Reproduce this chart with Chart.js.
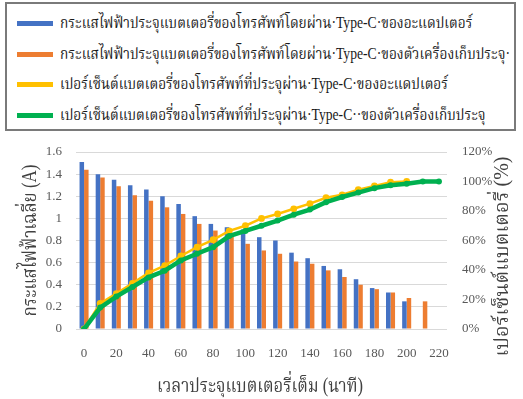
<!DOCTYPE html>
<html>
<head>
<meta charset="utf-8">
<script src="https://cdn.jsdelivr.net/npm/chart.js@4/dist/chart.umd.min.js"></script>
<style>
  html, body { margin: 0; padding: 0; background: #ffffff; }
  #wrap { position: relative; width: 523px; height: 399px; overflow: hidden; }
  #chart { position: absolute; left: 0; top: 0; }
  #legend {
    position: absolute; left: 5px; top: 2px; width: 507px; height: 125px;
    border: 2px solid #7a7a7a; background: #ffffff;
  }
  .row { position: absolute; left: 0; width: 500px; height: 30px; }
  .swatch { position: absolute; left: 10px; top: 13px; width: 36px; height: 5px; }
  .label {
    position: absolute; left: 53px; top: 0; line-height: 30px;
    font-family: "Liberation Serif", "Noto Serif Thai", "Noto Sans Thai", serif;
    font-size: 16px; color: #1a1a1a; white-space: nowrap; transform-origin: 0 50%;
  }
</style>
</head>
<body>
<div id="wrap">
  <canvas id="chart" width="523" height="399"></canvas>
  <div id="legend"></div>
</div>
<script>
// Charging time (minutes), one category every 10 minutes
const timeLabels = ['0','10','20','30','40','50','60','70','80','90','100','110','120','130','140','150','160','170','180','190','200','210','220'];

// Average charging current (A)
const adapterCurrent = [1.51,1.40,1.35,1.30,1.26,1.20,1.13,1.02,0.95,0.92,0.90,0.83,0.80,0.69,0.64,0.57,0.54,0.45,0.37,0.33,0.25,null,null];
const powerBankCurrent = [1.44,1.37,1.29,1.21,1.16,1.10,1.04,0.95,0.89,0.86,0.77,0.71,0.68,0.61,0.59,0.53,0.47,0.40,0.36,0.33,0.28,0.25,null];

// Battery level (%)
const adapterPercent = [0,17.4,24,31,38,43,49.5,55.5,60.5,66.5,70,75,78,81.5,85,89,91,94.5,97,99.5,100,null,null];
const powerBankPercent = [0,14.5,22,28.5,35,39.5,46.5,51,55.5,63,66.5,70,73.5,77.5,81,86,89.5,92.5,95.5,97.5,98.5,100,100];

// Axis tick labels
const currentTicks = ['0','0.2','0.4','0.6','0.8','1','1.2','1.4','1.6'];
const percentTicks = ['0%','20%','40%','60%','80%','100%','120%'];

// Series names
const seriesNames = [
  'กระแสไฟฟ้าประจุแบตเตอรี่ของโทรศัพท์โดยผ่าน·Type-C·ของอะแดปเตอร์',
  'กระแสไฟฟ้าประจุแบตเตอรี่ของโทรศัพท์โดยผ่าน·Type-C·ของตัวเครื่องเก็บประจุ·',
  'เปอร์เซ็นต์แบตเตอรี่ของโทรศัพท์ที่ประจุผ่าน·Type-C·ของอะแดปเตอร์',
  'เปอร์เซ็นต์แบตเตอรี่ของโทรศัพท์ที่ประจุผ่าน·Type-C··ของตัวเครื่องเก็บประจุ'
];
const seriesColors = ['#4472C4', '#ED7D31', '#FFC000', '#00B050'];

const xTitle = 'เวลาประจุแบตเตอรี่เต็ม (นาที)';
const yLeftTitle = 'กระแสไฟฟ้าเฉลี่ย (A)';
const yRightTitle = 'เปอร์เซ็นต์แบตเตอรี่ (%)';

const FONT = '"Liberation Serif", "Noto Serif Thai", "Noto Sans Thai", serif';
const TICK_COLOR = '#595959';

// Text measuring helper: Thai runs are set condensed to a target width
const measureCtx = document.createElement('canvas').getContext('2d');
function textWidth(text, size) {
  measureCtx.font = size + 'px ' + FONT;
  return measureCtx.measureText(text).width;
}

// Boxed legend above the plot
const legendEl = document.getElementById('legend');
const legendScale = 450 / textWidth(seriesNames[1], 16);
seriesNames.forEach((name, i) => {
  const row = document.createElement('div');
  row.className = 'row';
  row.style.top = (4 + i * 30.5) + 'px';
  const sw = document.createElement('div');
  sw.className = 'swatch';
  sw.style.background = seriesColors[i];
  const lb = document.createElement('div');
  lb.className = 'label';
  lb.textContent = name;
  lb.style.transform = 'scaleX(' + legendScale.toFixed(4) + ')';
  row.appendChild(sw);
  row.appendChild(lb);
  legendEl.appendChild(row);
});

// Draws a title centred at (x, y), rotated, squeezed horizontally to a given length
function drawTitle(ctx, text, x, y, angle, length) {
  ctx.save();
  ctx.translate(x, y);
  ctx.rotate(angle);
  const w = ctx.measureText(text).width;
  ctx.scale(Math.min(1, length / w), 1);
  ctx.fillText(text, 0, 0);
  ctx.restore();
}

// Axis titles, both vertical ones read bottom-to-top
const axisTitles = {
  id: 'axisTitles',
  afterDraw(chart) {
    const { ctx, chartArea } = chart;
    const midY = (chartArea.top + chartArea.bottom) / 2;
    ctx.save();
    ctx.fillStyle = '#404040';
    ctx.font = '20px ' + FONT;
    ctx.textAlign = 'center';
    ctx.textBaseline = 'middle';
    drawTitle(ctx, yLeftTitle, 31, midY, -Math.PI / 2, 152);
    drawTitle(ctx, yRightTitle, 503, midY + 16, -Math.PI / 2, 200);
    drawTitle(ctx, xTitle, 260, 387, 0, 206);
    ctx.restore();
  }
};

new Chart(document.getElementById('chart'), {
  data: {
    labels: timeLabels,
    datasets: [
      {
        type: 'line', label: seriesNames[3], data: powerBankPercent, yAxisID: 'yPct',
        borderColor: seriesColors[3], backgroundColor: seriesColors[3],
        borderWidth: 4.5, pointRadius: 3, pointBorderWidth: 0, tension: 0, order: 0
      },
      {
        type: 'line', label: seriesNames[2], data: adapterPercent, yAxisID: 'yPct',
        borderColor: seriesColors[2], backgroundColor: seriesColors[2],
        borderWidth: 2.5, pointRadius: 3.4, pointBorderWidth: 0, tension: 0, order: 1
      },
      {
        type: 'bar', label: seriesNames[0], data: adapterCurrent, yAxisID: 'yA',
        backgroundColor: seriesColors[0], barPercentage: 1, categoryPercentage: 0.56, order: 2
      },
      {
        type: 'bar', label: seriesNames[1], data: powerBankCurrent, yAxisID: 'yA',
        backgroundColor: seriesColors[1], barPercentage: 1, categoryPercentage: 0.56, order: 3
      }
    ]
  },
  options: {
    responsive: false,
    animation: false,
    devicePixelRatio: 1,
    layout: { padding: { top: 152, left: 0, right: 0, bottom: 0 } },
    plugins: { legend: { display: false }, tooltip: { enabled: false }, title: { display: false } },
    scales: {
      x: {
        type: 'category',
        offset: true,
        grid: { display: false, drawTicks: false },
        border: { display: false },
        ticks: {
          autoSkip: false, maxRotation: 0, padding: 17, color: TICK_COLOR,
          font: { family: FONT, size: 13 },
          callback: (v, i) => (i % 2 === 0 ? timeLabels[i] : '')
        },
        afterFit: (s) => { s.height = 70; }
      },
      yA: {
        position: 'left', min: 0, max: 1.6,
        grid: { color: '#d9d9d9', lineWidth: 1, drawTicks: false },
        border: { display: false },
        ticks: {
          stepSize: 0.2, padding: 14, color: TICK_COLOR, font: { family: FONT, size: 13 },
          callback: (v, i) => currentTicks[i]
        },
        afterFit: (s) => { s.width = 76; }
      },
      yPct: {
        position: 'right', min: 0, max: 120,
        grid: { display: false, drawTicks: false },
        border: { display: false },
        ticks: {
          stepSize: 20, padding: 15, color: TICK_COLOR, font: { family: FONT, size: 13 },
          callback: (v, i) => percentTicks[i]
        },
        afterFit: (s) => { s.width = 76; }
      }
    }
  },
  plugins: [axisTitles]
});
</script>
</body>
</html>
